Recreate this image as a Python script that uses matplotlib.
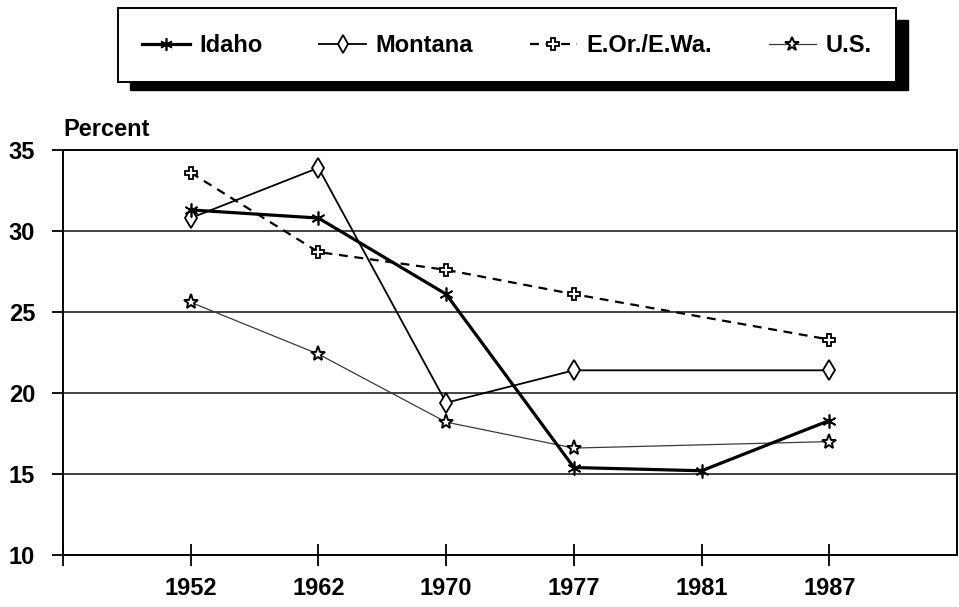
import numpy as np
import matplotlib
matplotlib.use("Agg")
from matplotlib import pyplot as plt
from matplotlib.patches import Rectangle

plt.rcParams['font.family'] = ['Liberation Sans', 'DejaVu Sans']

years = ["1952", "1962", "1970", "1977", "1981", "1987"]
idaho = [31.3, 30.8, 26.1, 15.4, 15.2, 18.3]
montana = [30.8, 33.9, 19.4, 21.4, np.nan, 21.4]
eor_ewa = [33.6, 28.7, 27.6, 26.1, np.nan, 23.3]
us = [25.6, 22.4, 18.2, 16.6, np.nan, 17.0]

fig = plt.figure(figsize=(9.59, 6.07), dpi=100)
ax = fig.add_axes([63/959, 1 - 555/607, (957 - 63)/959, (555 - 150)/607])

def draw(vals, **kw):
    # skip missing years so the line joins the neighbours
    x = np.arange(len(years))
    v = np.array(vals, dtype=float)
    ok = ~np.isnan(v)
    return ax.plot(x[ok], v[ok], **kw)[0]

l_us = draw(us, color="#3a3a3a", lw=0.9, marker="*", ms=11, mfc="white",
            mec="black", mew=1.4, zorder=3)
l_eor = draw(eor_ewa, color="black", lw=1.6, ls=(0, (4, 3)), marker="P", ms=9,
             mfc="white", mec="black", mew=1.3, zorder=4)
l_mt = draw(montana, color="black", lw=1.3, marker="d", ms=10, mfc="white",
            mec="black", mew=1.3, zorder=5)
l_id = draw(idaho, color="black", lw=2.3, marker=(6, 2, 0), ms=10,
            mec="black", mew=1.2, zorder=6)

ax.set_xlim(-1, 6)
ax.set_ylim(10, 35)
ax.set_xticks(range(-1, len(years)))
ax.set_xticklabels([""] + years)
ax.set_yticks([10, 15, 20, 25, 30, 35])
for y in [15, 20, 25, 30]:
    ax.axhline(y, color="#222222", lw=1.2, zorder=1)

for s in ax.spines.values():
    s.set_linewidth(1.4)
ax.tick_params(axis="x", direction="inout", length=16, width=1.3, pad=8,
               labelsize=17)
ax.tick_params(axis="y", direction="out", length=8, width=1.3, pad=12,
               labelsize=17)
for t in ax.get_xticklabels() + ax.get_yticklabels():
    t.set_fontweight("bold")

fig.text(63/959, 1 - 136/607, "Percent", fontsize=17, fontweight="bold",
         ha="left", va="baseline")

# legend box with heavy offset shadow
fig.patches.append(Rectangle((130/959, 1 - 90/607), (908 - 130)/959, (90 - 20)/607,
                             transform=fig.transFigure, facecolor="black",
                             edgecolor="black", zorder=1))
fig.patches.append(Rectangle((118/959, 1 - 82/607), (896 - 118)/959, (82 - 8)/607,
                             transform=fig.transFigure, facecolor="white",
                             edgecolor="black", lw=1.4, zorder=2))

handles = [l_id, l_mt, l_eor, l_us]
labels = ["Idaho", "Montana", "E.Or./E.Wa.", "U.S."]
leg = fig.legend(handles, labels, loc="center", bbox_to_anchor=(507/959, 1 - 46/607),
                 ncol=4, frameon=False, handlelength=2.0, handletextpad=0.4,
                 columnspacing=2.4, prop={"size": 17, "weight": "bold"},
                 markerscale=0.9)
leg.set_zorder(5)

fig.savefig("out.png", dpi=100)
